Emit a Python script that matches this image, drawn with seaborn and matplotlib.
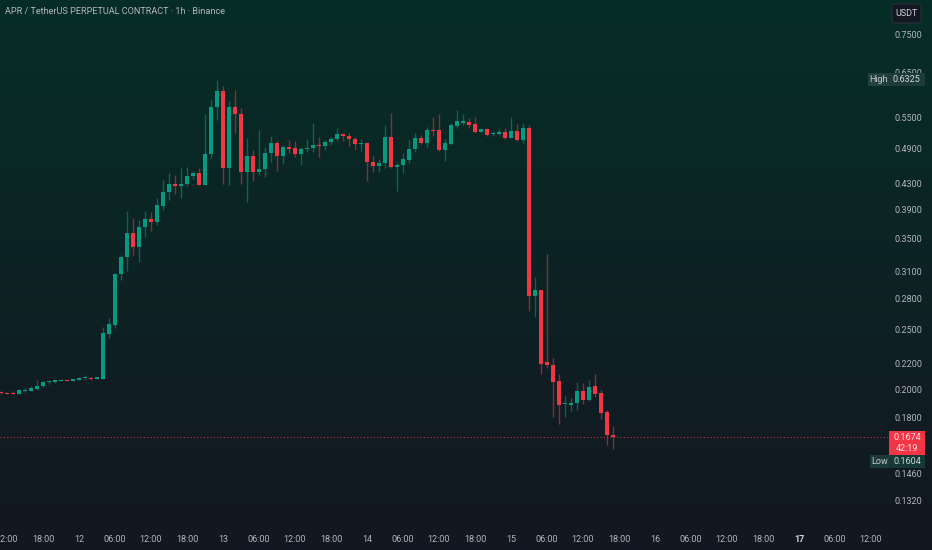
import numpy as np
import pandas as pd

import matplotlib
matplotlib.use('Agg')

from matplotlib import pyplot as plt
from matplotlib.patches import Rectangle, FancyBboxPatch
from matplotlib.ticker import FixedLocator, NullLocator, FuncFormatter
import seaborn as sns

# hourly candles, APR/USDT perp, first bar 11th 11:00
first_bar = "2025-10-11 11:00"
opens = [0.1980, 0.1975, 0.1972, 0.1965, 0.1990, 0.1987, 0.2002, 0.2023, 0.2052, 0.2052,
         0.2065, 0.2070, 0.2066, 0.2072, 0.2082, 0.2088, 0.2079, 0.2080, 0.2460, 0.2543,
         0.3068, 0.3268, 0.3581, 0.3400, 0.3654, 0.3769, 0.3731, 0.3962, 0.4171, 0.4288,
         0.4261, 0.4285, 0.4422, 0.4472, 0.4281, 0.4799, 0.5723, 0.6067, 0.4551, 0.5723,
         0.5563, 0.4494, 0.4764, 0.4494, 0.4534, 0.4823, 0.5000, 0.4764, 0.4921, 0.4902,
         0.4799, 0.4884, 0.4913, 0.4968, 0.4939, 0.5013, 0.5081, 0.5170, 0.5138, 0.5075,
         0.4981, 0.4994, 0.4653, 0.4590, 0.4647, 0.5118, 0.4568, 0.4607, 0.4694, 0.4884,
         0.5100, 0.5005, 0.5248, 0.5248, 0.4871, 0.4981, 0.5326, 0.5392, 0.5412, 0.5366,
         0.5215, 0.5261, 0.5170, 0.5170, 0.5203, 0.5100, 0.5228, 0.5056, 0.5293, 0.2833,
         0.2891, 0.2214, 0.2190, 0.2063, 0.1891, 0.1887, 0.1899, 0.1987, 0.1922, 0.2025,
         0.1975, 0.1838, 0.1690]
highs = [0.1987, 0.1980, 0.1987, 0.2002, 0.2010, 0.2025, 0.2070, 0.2065, 0.2065, 0.2080,
         0.2075, 0.2074, 0.2078, 0.2096, 0.2107, 0.2093, 0.2094, 0.2524, 0.2605, 0.3079,
         0.3296, 0.3882, 0.3787, 0.3755, 0.3882, 0.3872, 0.4070, 0.4357, 0.4467, 0.4439,
         0.4556, 0.4573, 0.4510, 0.4551, 0.5569, 0.5867, 0.6325, 0.6181, 0.5852, 0.6090,
         0.5689, 0.5088, 0.4871, 0.5248, 0.4921, 0.5132, 0.5037, 0.4963, 0.5056, 0.5037,
         0.4932, 0.5084, 0.5392, 0.5107, 0.5056, 0.5107, 0.5281, 0.5195, 0.5184, 0.5107,
         0.5069, 0.5013, 0.4764, 0.4711, 0.5346, 0.5596, 0.4653, 0.4823, 0.5056, 0.5184,
         0.5151, 0.5312, 0.5502, 0.5569, 0.5075, 0.5380, 0.5653, 0.5569, 0.5481, 0.5502,
         0.5289, 0.5293, 0.5234, 0.5261, 0.5289, 0.5502, 0.5366, 0.5392, 0.5346, 0.3034,
         0.2893, 0.3308, 0.2250, 0.2115, 0.1951, 0.1934, 0.2055, 0.2050, 0.2070, 0.2117,
         0.1995, 0.1852, 0.1745]
lows = [0.1965, 0.1965, 0.1965, 0.1963, 0.1980, 0.1985, 0.1995, 0.2020, 0.2040, 0.2045,
        0.2060, 0.2060, 0.2062, 0.2068, 0.2080, 0.2070, 0.2076, 0.2076, 0.2423, 0.2512,
        0.3003, 0.3109, 0.3296, 0.3215, 0.3528, 0.3608, 0.3685, 0.3897, 0.4045, 0.4136,
        0.4075, 0.4261, 0.4373, 0.4275, 0.4275, 0.4723, 0.5447, 0.4293, 0.4277, 0.5195,
        0.4293, 0.4019, 0.4346, 0.4455, 0.4411, 0.4664, 0.4510, 0.4624, 0.4812, 0.4752,
        0.4607, 0.4841, 0.4841, 0.4752, 0.4871, 0.4963, 0.5043, 0.5043, 0.4950, 0.4871,
        0.4859, 0.4346, 0.4494, 0.4494, 0.4551, 0.4551, 0.4187, 0.4477, 0.4647, 0.4830,
        0.4981, 0.4932, 0.5132, 0.4853, 0.4681, 0.4963, 0.5289, 0.5346, 0.5289, 0.5195,
        0.5203, 0.5138, 0.5132, 0.5145, 0.5081, 0.5088, 0.5043, 0.5005, 0.2679, 0.2620,
        0.2117, 0.2163, 0.1806, 0.1756, 0.1802, 0.1845, 0.1850, 0.1894, 0.1915, 0.1946,
        0.1789, 0.1626, 0.1604]
closes = [0.1973, 0.1968, 0.1968, 0.1995, 0.1997, 0.2012, 0.2027, 0.2057, 0.2063, 0.2070,
          0.2070, 0.2065, 0.2074, 0.2088, 0.2088, 0.2079, 0.2091, 0.2463, 0.2550, 0.3068,
          0.3268, 0.3581, 0.3400, 0.3654, 0.3769, 0.3731, 0.3970, 0.4171, 0.4288, 0.4261,
          0.4293, 0.4422, 0.4472, 0.4281, 0.4799, 0.5723, 0.6067, 0.4551, 0.5723, 0.5563,
          0.4494, 0.4764, 0.4494, 0.4539, 0.4823, 0.5000, 0.4764, 0.4921, 0.4895, 0.4799,
          0.4884, 0.4913, 0.4968, 0.4939, 0.5013, 0.5081, 0.5170, 0.5132, 0.5069, 0.4981,
          0.5005, 0.4653, 0.4590, 0.4647, 0.5118, 0.4568, 0.4607, 0.4706, 0.4884, 0.5100,
          0.5005, 0.5248, 0.5228, 0.4871, 0.5005, 0.5346, 0.5420, 0.5426, 0.5352, 0.5215,
          0.5267, 0.5157, 0.5195, 0.5209, 0.5100, 0.5228, 0.5056, 0.5293, 0.2833, 0.2891,
          0.2197, 0.2187, 0.2057, 0.1887, 0.1901, 0.1903, 0.1987, 0.1922, 0.2019, 0.1965,
          0.1833, 0.1687, 0.1674]

price_ticks = [0.75, 0.65, 0.55, 0.49, 0.43, 0.39, 0.35, 0.31, 0.28, 0.25, 0.22, 0.20, 0.18, 0.146, 0.132]
title = "APR / TetherUS PERPETUAL CONTRACT · 1h · Binance"
countdown = "42:19"
currency = "USDT"

UP = '#089981'
DOWN = '#f23645'
TXT = '#b2b5be'
W, H = 932, 550

sns.set_theme(style='dark', rc={'axes.grid': False})
plt.rcParams['font.family'] = ['Roboto', 'DejaVu Sans']

df = pd.DataFrame({'open': opens, 'high': highs, 'low': lows, 'close': closes})
df['time'] = pd.date_range(first_bar, periods=len(df), freq='h')
day0 = df['time'].iloc[0].normalize()
df['hour'] = (df['time'] - day0) / pd.Timedelta(hours=1)
df['up'] = df['close'] >= df['open']

fig = plt.figure(figsize=(W / 100, H / 100), dpi=100)

# background gradient, dark green on top fading to navy
bg = fig.add_axes([0, 0, 1, 1], zorder=-10)
top_c = np.array([6, 46, 38]) / 255
bot_c = np.array([19, 23, 34]) / 255
t = np.linspace(0, 1, 300)[:, None]
grad = top_c * (1 - t) + bot_c * t
bg.imshow(grad[:, None, :], aspect='auto', extent=[0, 1, 0, 1])
bg.axis('off')

ax = fig.add_axes([0, 22 / H, 888 / W, 528 / H])
ax.set_facecolor('none')

col = np.where(df['up'], UP, DOWN)
ax.vlines(df['hour'], df['low'], df['high'], colors=col, linewidth=1.0, alpha=0.55)
body_lo = df[['open', 'close']].min(axis=1)
body_h = (df['open'] - df['close']).abs().clip(lower=body_lo * 0.004)
ax.bar(df['hour'], body_h, bottom=body_lo, width=0.68, color=col, linewidth=0)

last = df['close'].iloc[-1]
ax.axhline(last, color=DOWN, linewidth=0.8, linestyle=(0, (1, 2)), alpha=0.8)

ax.set_yscale('log')
ax.set_ylim(0.11937, 0.85113)
ax.set_xlim(10.833, 158.833)
ax.yaxis.set_major_locator(FixedLocator(price_ticks))
ax.yaxis.set_minor_locator(NullLocator())
ax.yaxis.set_major_formatter(FuncFormatter(lambda v, p: f"{v:.4f}"))
ax.yaxis.tick_right()
ax.tick_params(axis='y', length=0, pad=5, labelsize=6.5, labelcolor=TXT)

tick_hours = np.arange(12, 157, 6)
tick_labels = []
for h in tick_hours:
    ts = day0 + pd.Timedelta(hours=int(h))
    tick_labels.append(str(ts.day) if ts.hour == 0 else ts.strftime('%H:%M'))
ax.set_xticks(tick_hours)
ax.set_xticklabels(tick_labels)
ax.xaxis.set_minor_locator(NullLocator())
ax.tick_params(axis='x', length=0, pad=5, labelsize=6.5, labelcolor=TXT)
for lab in ax.get_xticklabels():
    if lab.get_text() == '17':
        lab.set_fontweight('bold')
        lab.set_color('#d1d4dc')
ax.set_xlabel('')
ax.set_ylabel('')
sns.despine(ax=ax, left=True, bottom=True, right=True, top=True)


def price_px(p):
    return H - ax.transData.transform((0, p))[1]


def box(x0, y0, x1, y1, color, alpha=1.0):
    fig.add_artist(Rectangle((x0 / W, 1 - y1 / H), (x1 - x0) / W, (y1 - y0) / H,
                             transform=fig.transFigure, facecolor=color, edgecolor='none',
                             alpha=alpha, zorder=5))


def label(x, y, s, color, ha='center', weight='normal'):
    fig.text(x / W, 1 - y / H, s, ha=ha, va='center', color=color, fontsize=6.5,
             fontweight=weight, zorder=6)


# high marker
hy = price_px(df['high'].max())
box(868, hy - 6.5, 888, hy + 6.5, '#21413c')
box(888, hy - 6.5, 925, hy + 6.5, '#1d3b37')
label(878, hy, 'High', '#c5cad3')
label(906.5, hy, f"{df['high'].max():.4f}", '#d1d4dc')

# current price with countdown
cy = price_px(last)
box(889, cy - 6, 925, cy + 18, DOWN)
label(907, cy, f"{last:.4f}", '#fde3e6')
label(907, cy + 11.5, countdown, '#fde3e6')

# low marker, pushed just below the current price tag
ly = cy + 18
box(870, ly, 889, ly + 13, '#1c3a37')
box(889, ly, 925, ly + 13, '#153a35')
label(879.5, ly + 6.5, 'Low', '#c5cad3')
label(907, ly + 6.5, f"{df['low'].min():.4f}", '#d1d4dc')

# currency button
fig.add_artist(FancyBboxPatch((892 / W, 1 - 23 / H), 29 / W, 19 / H,
                              boxstyle='round,pad=0,rounding_size=0.004',
                              transform=fig.transFigure, facecolor='#131722',
                              edgecolor='#2a2e39', linewidth=0.8, zorder=5))
label(906.5, 13.5, currency, '#d1d4dc')

fig.text(5 / W, 1 - 12 / H, title, ha='left', va='center', color=TXT, fontsize=6.6,
         family=['Liberation Sans Narrow', 'Roboto', 'DejaVu Sans'])

plt.savefig('out.png', dpi=100)
plt.close(fig)
